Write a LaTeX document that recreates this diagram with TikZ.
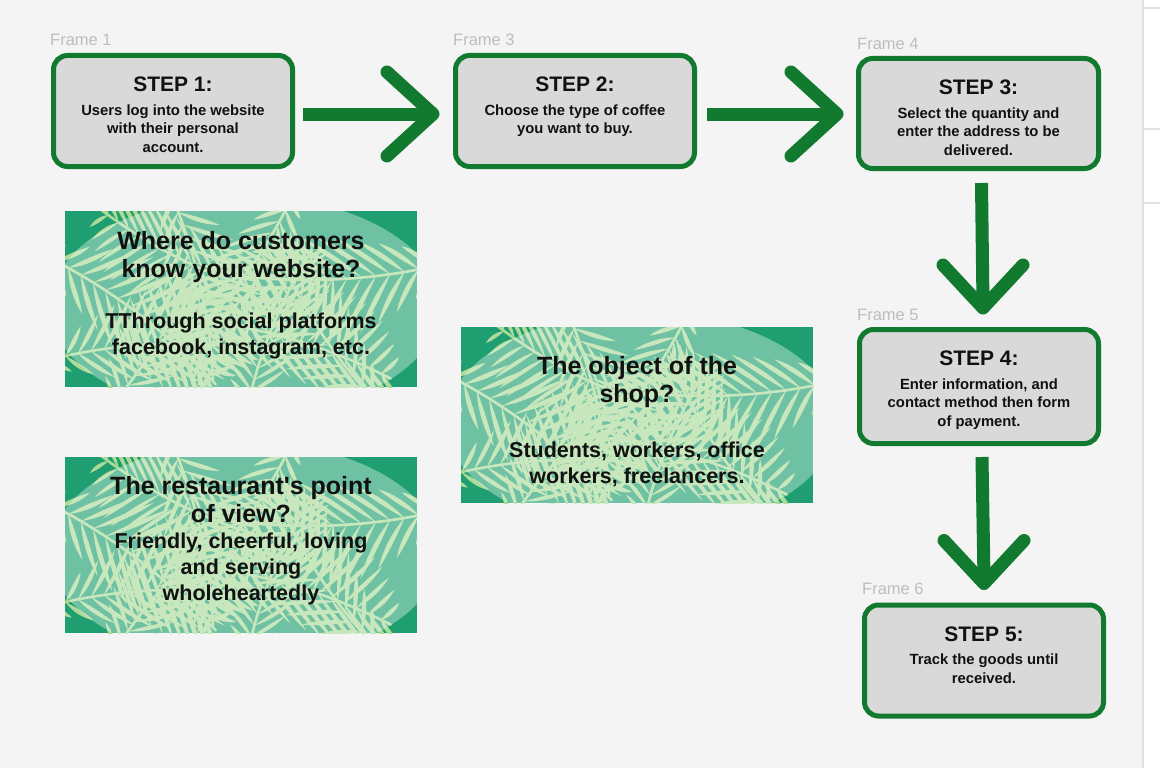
\documentclass[tikz,border=0pt]{standalone}
\usepackage{fontspec}
\setmainfont{Liberation Sans}
\usetikzlibrary{calc}
\definecolor{canvasbg}{HTML}{F4F4F4}
\definecolor{boxgray}{HTML}{D9D9D9}
\definecolor{arrowgreen}{HTML}{117A2F}
\definecolor{palmdark}{HTML}{1F9F71}
\definecolor{leafgreen}{HTML}{ACDB98}
\definecolor{framegray}{HTML}{BDBDBD}
\definecolor{textblack}{HTML}{111111}
\definecolor{sideline}{HTML}{E2E2E2}
\tikzset{
  stepbox/.style={draw=arrowgreen, line width=5pt, fill=boxgray, rounded corners=14pt,
    minimum width=239pt, minimum height=111pt, inner sep=0pt},
  steptitle/.style={font=\bfseries\fontsize{21}{24}\selectfont, text=textblack, inner sep=0pt, anchor=base},
  stepbody/.style={font=\bfseries\fontsize{14.8}{18.5}\selectfont, text=textblack, align=center, inner sep=0pt, anchor=north},
  paneltitle/.style={font=\bfseries\fontsize{25}{28.5}\selectfont, text=textblack, align=center, inner sep=0pt, anchor=north},
  panelbody/.style={font=\bfseries\fontsize{21.5}{26}\selectfont, text=textblack, align=center, inner sep=0pt, anchor=north},
  panelarea/.style={minimum width=352pt, minimum height=176pt, inner sep=0pt, outer sep=0pt},
  framelabel/.style={font=\fontsize{16.5}{19}\selectfont, text=framegray, inner sep=0pt, anchor=base west},
  shaft/.style={draw=arrowgreen, line width=13pt},
  chev/.style={draw=arrowgreen, line width=13pt, line cap=round, line join=round},
  midrib/.style={draw=leafgreen, line width=2.6pt, line cap=round},
  leaflet/.style={fill=leafgreen}
}
\newcommand\frond[4]{%
  \begin{scope}[shift={(#1,#2)},rotate=#3,scale=#4]
    \draw[midrib] plot[domain=0:200,samples=21,smooth] (\x,{0.001*\x*\x});
    \foreach \tt in {8,21,...,190}{%
      \pgfmathsetmacro\yb{0.001*\tt*\tt}%
      \pgfmathsetmacro\flen{12+40*sin(0.9*\tt)}%
      \pgfmathsetmacro\tx{\tt+0.9*\flen}%
      \pgfmathsetmacro\tya{\yb+\flen}%
      \pgfmathsetmacro\tyb{\yb-\flen}%
      \fill[leaflet] (\tt,\yb) .. controls ($(\tt,\yb)!0.35!(\tx,\tya)+(-3.6,3.3)$) and ($(\tt,\yb)!0.75!(\tx,\tya)+(-2.6,2.4)$) .. (\tx,\tya)
        .. controls ($(\tt,\yb)!0.75!(\tx,\tya)+(1.0,-0.9)$) and ($(\tt,\yb)!0.35!(\tx,\tya)+(1.2,-1.1)$) .. (\tt,\yb);
      \fill[leaflet] (\tt,\yb) .. controls ($(\tt,\yb)!0.35!(\tx,\tyb)+(3.6,3.3)$) and ($(\tt,\yb)!0.75!(\tx,\tyb)+(2.6,2.4)$) .. (\tx,\tyb)
        .. controls ($(\tt,\yb)!0.75!(\tx,\tyb)+(-1.0,-0.9)$) and ($(\tt,\yb)!0.35!(\tx,\tyb)+(-1.2,-1.1)$) .. (\tt,\yb);
    }
  \end{scope}}
\newcommand\palmbg[2]{%
  \begin{scope}[shift={(#1,#2)}]
    \clip (0,0) rectangle (352,176);
    \fill[palmdark] (0,0) rectangle (352,176);
    \foreach \fx/\fy/\fa/\fs in {-30/40/-25/1.1, 100/-30/-65/1.0, 230/-20/-115/1.0,
        390/50/195/1.1, -20/150/15/1.0, 130/110/-5/1.0, 320/200/135/1.0,
        40/210/60/0.9, 200/80/165/0.9, 180/210/80/0.9}{%
      \frond{\fx}{\fy}{\fa}{\fs}}
    \fill[white,opacity=0.36] (180,95) ellipse [x radius=195, y radius=110];
  \end{scope}}
\begin{document}
\begin{tikzpicture}[x=1pt,y=-1pt]
\useasboundingbox (0,0) rectangle (1160,768);
\fill[canvasbg] (0,0) rectangle (1160,768);
\fill[white] (1143,0) rectangle (1160,768);
\draw[sideline, line width=1.2pt] (1143,0) -- (1143,768);
\draw[sideline, line width=1.2pt] (1143,8) -- (1160,8);
\draw[sideline, line width=1.2pt] (1143,129) -- (1160,129);
\draw[sideline, line width=1.2pt] (1143,203) -- (1160,203);

% frame labels
\node[framelabel] (f1) at (50,46) {Frame 1};
\node[framelabel] (f3) at (453,46) {Frame 3};
\node[framelabel] (f4) at (857,50) {Frame 4};
\node[framelabel] (f5) at (857,320.5) {Frame 5};
\node[framelabel] (f6) at (862,594.5) {Frame 6};

% step boxes
\node[stepbox] (s1) at (173,111) {};
\node[stepbox] (s2) at (575,111) {};
\node[stepbox, minimum width=240pt, minimum height=110pt] (s3) at (978.5,113.5) {};
\node[stepbox, minimum height=114pt] (s4) at (979,386.5) {};
\node[stepbox] (s5) at (984,660.5) {};

\node[steptitle] (t1) at ($(s1.north)+(0,38.5)$) {STEP 1:};
\node[stepbody] (b1) at ($(s1.north)+(0,49)$) {\strut Users log into the website\\with their personal\\account.};
\node[steptitle] (t2) at ($(s2.north)+(0,38.5)$) {STEP 2:};
\node[stepbody] (b2) at ($(s2.north)+(0,49)$) {\strut Choose the type of coffee\\you want to buy.};
\node[steptitle] (t3) at ($(s3.north)+(0,38.5)$) {STEP 3:};
\node[stepbody] (b3) at ($(s3.north)+(0,49)$) {\strut Select the quantity and\\enter the address to be\\delivered.};
\node[steptitle] (t4) at ($(s4.north)+(0,38.5)$) {STEP 4:};
\node[stepbody] (b4) at ($(s4.north)+(0,49)$) {\strut Enter information, and\\contact method then form\\of payment.};
\node[steptitle] (t5) at ($(s5.north)+(0,38.5)$) {STEP 5:};
\node[stepbody] (b5) at ($(s5.north)+(0,49)$) {\strut Track the goods until\\received.};

% arrows
\coordinate (a1s) at ($(s1.east)+(8,3)$);
\coordinate (a1t) at ($(s2.west)+(-20,3)$);
\draw[shaft] (a1s) -- ($(a1t)+(-4,0)$);
\draw[chev] ($(a1t)+(-46,-42)$) -- (a1t) -- ($(a1t)+(-46,42)$);

\coordinate (a2s) at ($(s2.east)+(10,3)$);
\coordinate (a2t) at ($(s3.west)+(-19,0.5)$);
\draw[shaft] (a2s) -- ($(a2t)+(-4,0)$);
\draw[chev] ($(a2t)+(-46,-42)$) -- (a2t) -- ($(a2t)+(-46,42)$);

\coordinate (a3s) at ($(s3.south)+(3,12)$);
\coordinate (a3t) at ($(s4.north)+(4,-19)$);
\draw[shaft] (a3s) -- ($(a3t)+(0,-4)$);
\draw[chev] ($(a3t)+(-40,-43)$) -- (a3t) -- ($(a3t)+(40,-43)$);

\coordinate (a4s) at ($(s4.south)+(3,11)$);
\coordinate (a4t) at ($(s5.north)+(0,-19)$);
\draw[shaft] (a4s) -- ($(a4t)+(0,-4)$);
\draw[chev] ($(a4t)+(-40,-43)$) -- (a4t) -- ($(a4t)+(40,-43)$);

% palm panels
\palmbg{65}{211}
\palmbg{461}{327}
\palmbg{65}{457}
\node[panelarea] (p1) at (241,299) {};
\node[panelarea] (p2) at (637,415) {};
\node[panelarea] (p3) at (241,545) {};

\node[paneltitle] (q1) at ($(p1.north)+(0,18)$) {\strut Where do customers\\know your website?};
\node[panelbody] (r1) at ($(p1.north)+(0,99.5)$) {\strut TThrough social platforms\\facebook, instagram, etc.};
\node[paneltitle] (q2) at ($(p2.north)+(0,27)$) {\strut The object of the\\shop?};
\node[panelbody] (r2) at ($(p2.north)+(0,112.5)$) {\strut Students, workers, office\\workers, freelancers.};
\node[paneltitle] (q3) at ($(p3.north)+(0,17)$) {\strut The restaurant\textquotesingle s point\\of view?};
\node[panelbody] (r3) at ($(p3.north)+(0,73.5)$) {\strut Friendly, cheerful, loving\\and serving\\wholeheartedly};
\end{tikzpicture}
\end{document}
